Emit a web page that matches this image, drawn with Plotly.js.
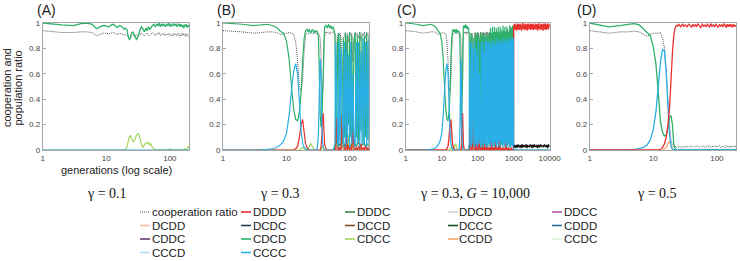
<!DOCTYPE html>
<html><head><meta charset="utf-8">
<script src="https://cdn.plot.ly/plotly-3.0.1.min.js"></script>
<style>html,body{margin:0;padding:0;background:#fff}#chart{width:740px;height:261px}</style>
</head><body><div id="chart"></div>
<script>
// ---------- generations ----------
const gen1 = [1,2,3,4,5,6,7,8,9,10,11,12,13,14,15,16,17,18,19,20,21,22,23,24,25,26,27,28,29,30,32,34,36,38,40,42,44,46,48,50,53,56,59,62,65,68,71,74,77,80,84,88,92,96,100,105,110,115,120,125,130,135,140,145,150,155,160,165,170,175,180,185,190,195,200];
const genB1 = [1,2,3,4,5,6,7,8,9,10,11,12,13,14,15,16,17,18,19,20,21,22,23,24,25,26,27,28,29,30,31,32,33,34,35,36,37,38,39,40,42,44,46,48,50,52,54];
const genBosc = [56,58,60,62,64,66,68,70,73,76,79,82,85,88,91,95,99,103,107,111,116,121,126,131,137,143,149,155,162,169,176,184,192,200];
const genC2 = [205,212,219,226,233,240,248,256,264,272,281,290,299,308,318,328,338,349,360,371,383,395,407,420,433,447,461,475,490,505,521,537,554,571,589,607,626,645,665,686,707,729,752,775,799,824,850,876,903,931,960,990];
const genC3 = [1000,1030,1060,1090,1120,1160,1200,1240,1280,1320,1360,1410,1460,1510,1560,1610,1670,1730,1790,1850,1910,1980,2050,2120,2190,2270,2350,2430,2510,2600,2690,2780,2880,2980,3080,3190,3300,3410,3530,3650,3780,3910,4050,4190,4330,4480,4640,4800,4970,5140,5320,5500,5690,5890,6100,6310,6530,6760,6990,7230,7480,7740,8010,8290,8580,8880,9190,9510,9840,10000];
const genEndA = [1, 200];
const genEndC = [1000, 10000];
const genDminor = [14,15,16,17,18,19,20,21,22];

// ---------- panel A (gamma = 0.1) ----------
const coopA = [0.94,0.925,0.925,0.93,0.93,0.925,0.9,0.91,0.92,0.92, 0.915,0.92,0.925,0.915,0.91,0.92,0.915,0.91,0.905,0.91, 0.9,0.895,0.89,0.9,0.91,0.905,0.9,0.895,0.9,0.905, 0.9,0.91,0.92,0.905,0.9,0.915,0.92,0.905,0.9,0.91, 0.925,0.915,0.9,0.92,0.91,0.925,0.9,0.915,0.905,0.92, 0.9,0.915,0.905,0.92,0.9, 0.915,0.895,0.92,0.905,0.915,0.9,0.92,0.91,0.895,0.915,0.9,0.92,0.905,0.91,0.895,0.915,0.9,0.91,0.895,0.905];
const cdcdA = [1.0,0.985,0.98,0.995,1.0,0.99,0.955,0.97,0.98,0.975, 0.97,0.985,0.99,0.975,0.965,0.98,0.975,0.965,0.95,0.96, 0.95,0.9,0.87,0.88,0.92,0.93,0.92,0.9,0.88,0.87, 0.9,0.95,0.97,0.95,0.93,0.96,0.94,0.97,0.95,0.96, 0.98,0.99,0.97,0.99,0.98,1.0,0.97,0.99,0.98,0.995, 0.97,0.99,0.98,1.0,0.97, 0.99,0.975,0.995,0.98,0.99,0.97,0.985,0.995,0.97,0.99,0.975,0.98,0.96,0.985,0.975,0.99,0.965,0.98,0.97,0.985];
const cdccA = [0,0,0,0,0,0,0,0,0,0, 0,0,0,0,0,0,0,0,0,0.005, 0.02,0.06,0.1,0.115,0.09,0.07,0.066,0.08,0.1,0.12, 0.13,0.09,0.04,0.02,0.04,0.06,0.05,0.06,0.04,0.05, 0.02,0.01,0.005,0,0,0.005,0,0,0.005,0, 0,0.005,0,0,0.01, 0,0.005,0,0,0.005,0,0,0.005,0,0,0.005,0,0,0.01,0.005,0,0.01,0.02,0.03,0.015];
const ccccA = [0, 0];

// ---------- panel B (gamma = 0.3), also first 200 generations of C ----------
const coopB1 = [0.94,0.93,0.92,0.925,0.93,0.93,0.925,0.91,0.915,0.92, 0.925,0.92,0.91,0.85,0.7,0.5,0.46,0.55,0.78,0.9, 0.92,0.915,0.92,0.925,0.92,0.915,0.92,0.925,0.92,0.915, 0.92,0.92,0.91,0.88,0.75,0.55,0.45,0.5,0.75,0.9, 0.93,0.92,0.93,0.91,0.93,0.92,0.93];
const cdcdB1 = [1.0,0.99,0.98,0.985,0.99,0.98,0.965,0.935,0.92,0.86, 0.72,0.5,0.32,0.24,0.23,0.3,0.45,0.7,0.88,0.94, 0.95,0.93,0.95,0.92,0.94,0.95,0.92,0.94,0.93,0.94, 0.92,0.88,0.6,0.28,0.18,0.22,0.4,0.6,0.85,0.97, 0.98,0.96,0.99,0.96,0.98,0.95,0.97];
const ccccB1 = [0,0,0,0.002,0.005,0.01,0.02,0.04,0.07,0.13, 0.27,0.47,0.62,0.68,0.6,0.38,0.15,0.05,0.02,0.01, 0.005,0,0,0,0,0,0,0,0,0.005, 0.03,0.15,0.45,0.72,0.6,0.25,0.06,0.02,0.01,0, 0,0,0,0,0,0,0];
const ddddB1 = [0,0,0,0,0,0,0,0,0,0, 0,0,0,0.01,0.03,0.1,0.2,0.24,0.14,0.05, 0.02,0.01,0,0,0,0,0,0,0,0, 0,0,0,0,0.02,0.1,0.25,0.29,0.15,0.04, 0.01,0,0,0,0,0,0];
const cdccB1 = [0,0,0,0,0,0,0,0,0,0, 0,0,0,0,0,0,0.01,0.02,0.01,0, 0,0.01,0.03,0.05,0.04,0.02,0.01,0,0,0, 0,0,0,0,0,0.02,0.03,0.01,0,0, 0,0,0,0,0,0,0];
const coopBosc = [0.93,0.92,0.9,0.55,0.88,0.92,0.9,0.92,0.88,0.5, 0.88,0.9,0.93,0.8,0.92,0.85,0.93,0.9,0.92,0.7, 0.88,0.93,0.9,0.92,0.88,0.93,0.86,0.92,0.9,0.93, 0.88,0.93,0.9,0.92];
const cdcdBosc = [0.95,0.9,0.1,0.05,0.85,0.92,0.08,0.9,0.15,0.05, 0.88,0.1,0.92,0.06,0.9,0.2,0.93,0.1,0.9,0.05, 0.85,0.92,0.1,0.9,0.07,0.93,0.15,0.9,0.05,0.9, 0.1,0.92,0.08,0.9];
const ccccBosc = [0.01,0.05,0.85,0.4,0.05,0.02,0.85,0.05,0.8,0.3, 0.03,0.85,0.02,0.8,0.05,0.75,0.02,0.85,0.05,0.6, 0.08,0.02,0.85,0.05,0.85,0.02,0.78,0.05,0.88,0.04, 0.85,0.02,0.86,0.05];
const ddddBosc = [0,0,0.02,0.25,0.05,0,0.02,0,0.03,0.28, 0.05,0.02,0,0.1,0,0.03,0,0.02,0,0.15, 0.02,0,0.02,0,0.03,0,0.05,0,0.02,0, 0.03,0,0.02,0];
const dddcBosc = [0,0.03,0.05,0.2,0.08,0.04,0.05,0.03,0.06,0.3, 0.07,0.03,0.05,0.1,0.04,0.02,0.04,0.03,0.05,0.25, 0.06,0.04,0.03,0.05,0.06,0.03,0.02,0.04,0.05,0.04, 0.03,0.05,0.04,0.03];
const cdccBosc = [0,0,0.02,0.05,0.1,0,0.01,0,0.03,0.08, 0.02,0,0.01,0.05,0,0.12,0,0.01,0,0.06, 0.02,0,0.01,0,0.02,0,0.04,0,0.01,0, 0.03,0,0.02,0];
const ccddBosc = [0,0,0,0.03,0.02,0,0,0,0.02,0.12, 0.01,0,0,0.04,0,0.05,0,0,0,0.1, 0.01,0,0,0,0.02,0,0.03,0,0,0, 0.02,0,0.01,0];
const ddccBosc = [0,0,0,0.02,0,0,0,0,0,0.05, 0,0,0,0.03,0,0,0,0,0,0.08, 0,0,0,0,0.02,0,0,0,0,0, 0.03,0,0,0];

// ---------- panel C (gamma = 0.3, G = 10,000), generations 200..10000 ----------
const coopC2 = [0.9,0.92,0.88,0.93,0.9,0.6,0.91,0.93,0.89,0.92, 0.9,0.94,0.88,0.7,0.91,0.93,0.9,0.92,0.89,0.94, 0.9,0.65,0.92,0.93,0.9,0.92,0.88,0.93,0.91,0.94, 0.9,0.92,0.89,0.93,0.9,0.75,0.91,0.94,0.9,0.93, 0.92,0.9,0.93,0.94,0.9,0.95,0.91,0.93,0.92,0.94, 0.91,0.9];
const cdcdC2 = [0.05,0.93,0.03,0.96,0.08,0.92,0.02,0.97,0.06,0.93, 0.03,0.97,0.07,0.93,0.04,0.96,0.02,0.93,0.06,0.97, 0.03,0.92,0.05,0.97,0.02,0.95,0.05,0.93,0.03,0.98, 0.06,0.94,0.04,0.97,0.02,0.93,0.07,0.97,0.03,0.95, 0.05,0.93,0.02,0.98,0.03,0.97,0.04,0.96,0.03,0.98, 0.05,0.04];
const ccccC2 = [0.84,0.04,0.85,0.02,0.8,0.06,0.86,0.03,0.83,0.05, 0.87,0.02,0.82,0.06,0.85,0.03,0.88,0.05,0.83,0.02, 0.86,0.07,0.85,0.03,0.87,0.04,0.83,0.06,0.88,0.02, 0.85,0.05,0.86,0.03,0.87,0.06,0.83,0.02,0.88,0.04, 0.85,0.05,0.87,0.03,0.89,0.02,0.86,0.05,0.88,0.03, 0.87,0.88];
const ddddC2 = [0,0.02,0,0.01,0,0.2,0,0.01,0,0.02, 0,0,0.03,0.15,0,0.01,0,0.02,0,0, 0.01,0.18,0,0,0.02,0,0.01,0,0,0.02, 0,0.01,0,0,0.02,0.12,0,0,0.01,0, 0.02,0,0,0,0.01,0,0.02,0,0,0, 0.01,0];
const ddddC3 = [0.965,0.99,0.945,0.995,0.955,0.985,0.94,0.975,0.995,0.95, 0.99,0.945,0.97,0.995,0.95,0.985,0.94,0.975,1.0,0.955, 0.985,0.945,0.995,0.965,0.95,0.99,0.94,0.975,0.995,0.95, 0.985,0.955,0.995,0.945,0.975,0.99,0.95,0.995,0.965,0.945, 0.985,0.955,0.995,0.95,0.975,0.99,0.94,0.985,0.995,0.955, 0.975,0.945,0.995,0.965,0.95,0.99,0.94,0.985,0.995,0.95, 0.975,0.995,0.945,0.985,0.955,0.995,0.95,0.975,0.99,0.965];
const coopC3 = [0.03,0.02,0.04,0.025,0.035,0.015,0.04,0.03,0.02,0.045, 0.025,0.035,0.02,0.04,0.03,0.015,0.035,0.045,0.02,0.03, 0.04,0.025,0.035,0.02,0.045,0.03,0.015,0.04,0.025,0.035, 0.02,0.04,0.03,0.045,0.025,0.015,0.035,0.04,0.02,0.03, 0.045,0.025,0.035,0.02,0.04,0.03,0.015,0.04,0.035,0.025, 0.02,0.045,0.03,0.04,0.025,0.035,0.02,0.04,0.03,0.045, 0.025,0.035,0.02,0.04,0.03,0.015,0.045,0.025,0.035,0.03];
const cdcdCEnd = [0, 0];
const ccccCEnd = [0, 0];

// ---------- panel D (gamma = 0.5) ----------
const coopD = [0.94,0.92,0.93,0.93,0.935,0.93,0.91,0.895,0.91,0.92, 0.92,0.92,0.925,0.88,0.8,0.62,0.38,0.2,0.08,0.04, 0.025,0.03,0.02,0.025,0.02,0.03,0.02,0.025,0.03,0.02, 0.025,0.03,0.02,0.035,0.025,0.03,0.02,0.03,0.025,0.035, 0.02,0.03,0.025,0.035,0.02,0.03,0.025,0.03,0.035,0.02, 0.03,0.025,0.035,0.02,0.03, 0.025,0.035,0.02,0.03,0.025,0.03,0.02,0.035,0.025,0.03,0.02,0.035,0.025,0.03,0.02,0.03,0.035,0.025,0.03,0.02];
const cdcdD = [1.0,0.97,0.98,0.99,0.995,0.985,0.955,0.925,0.9,0.81, 0.68,0.45,0.22,0.14,0.11,0.12,0.17,0.26,0.27,0.2, 0.05,0.01,0,0,0,0,0,0,0,0, 0,0,0,0,0,0,0,0,0,0, 0,0,0,0,0,0,0,0,0,0, 0,0,0,0,0, 0,0,0,0,0,0,0,0,0,0,0,0,0,0,0,0,0,0,0,0];
const ccccD = [0,0,0,0,0.005,0.01,0.02,0.04,0.08,0.16, 0.3,0.5,0.7,0.79,0.78,0.6,0.35,0.12,0.03,0.005, 0,0,0,0,0,0,0,0,0,0, 0,0,0,0,0,0,0,0,0,0, 0,0,0,0,0,0,0,0,0,0, 0,0,0,0,0, 0,0,0,0,0,0,0,0,0,0,0,0,0,0,0,0,0,0,0,0];
const ddddD = [0,0,0,0,0,0,0,0,0,0, 0,0,0.005,0.02,0.05,0.1,0.2,0.33,0.55,0.76, 0.9,0.96,0.98,0.975,0.99,0.98,0.97,0.985,0.99,0.975, 0.985,0.97,0.99,0.98,0.965,0.99,0.975,0.985,0.97,0.995, 0.98,0.965,0.99,0.975,0.985,0.97,0.99,0.98,0.965,0.995, 0.975,0.985,0.97,0.99,0.98, 0.965,0.99,0.975,0.985,0.97,0.995,0.98,0.965,0.99,0.975,0.985,0.97,0.99,0.98,0.965,0.99,0.975,0.985,0.97,0.98];
const ccddD = [0,0.01,0.02,0.05,0.066,0.04,0.01,0,0];

// ---------- legend / labels ----------
const legendNames = ['cooperation ratio','DDDD','DDDC','DDCD','DDCC','DCDD','DCDC','DCCD','DCCC','CDDD','CDDC','CDCD','CDCC','CCDD','CCDC','CCCD','CCCC'];
const legendColors = ['#555555','#e8312f','#3a8a45','#d2d2d2','#b455b4','#f8c0a0','#1f3b5c','#8b4a22','#1d4a2a','#2b6f98','#5f3a70','#2eb06a','#a2d45e','#f3a464','#d8f0d8','#b2def2','#2aaee6'];
const panelLabels = ['(A)','(B)','(C)','(D)'];
const gammaLabels = ['γ = 0.1','γ = 0.3','γ = 0.3, <i>G</i> = 10,000','γ = 0.5'];
const xTickVals = [1,10,100,1000,10000];
const xTickText = ['1','10','100','1000','10000'];
const yTickVals = [0,0.2,0.4,0.6,0.8,1];
const yTickText = ['0','0.2','0.4','0.6','0.8','1'];

const col = {}; legendNames.forEach((n,i)=>col[n]=legendColors[i]);
const COOP = 'cooperation ratio';
const COOPDASH = '1px,1px';

// ---------- layout geometry (pixels) ----------
const W = 740, H = 261;
const plotTop = 23, plotBot = 150;
const panelPx = [[42.7,189],[223,369],[405.7,549.7],[589.7,736]];
const panelMax = [200,200,10000,200];
const labelPx = [35,215,395,575];
const gammaPx = [107,280,475,657];
const px = v => v / W, py = v => 1 - v / H;

function tr(k, x, y, name, width, dash, color) {
  const s = k === 0 ? '' : String(k + 1);
  return {type:'scatter', mode:'lines', x:x, y:y, xaxis:'x'+s, yaxis:'y'+s,
    line:{color: color || col[name], width: width || 1.2, dash: dash || 'solid', simplify:false},
    showlegend:false, hoverinfo:'skip'};
}
const xB = genB1.concat(genBosc);
const xC = xB.concat(genC2);

const traces = [
  // A
  tr(0, gen1, coopA, COOP, 1, COOPDASH),
  tr(0, gen1, cdccA, 'CDCC'),
  tr(0, gen1, cdcdA, 'CDCD', 1.3),
  tr(0, genEndA, ccccA, 'CCCC'),
  // B
  tr(1, xB, coopB1.concat(coopBosc), COOP, 1, COOPDASH),
  tr(1, genBosc, ddccBosc, 'DDCC'),
  tr(1, genBosc, ccddBosc, 'CCDD'),
  tr(1, xB, cdccB1.concat(cdccBosc), 'CDCC'),
  tr(1, genBosc, dddcBosc, 'DDDC'),
  tr(1, xB, cdcdB1.concat(cdcdBosc), 'CDCD'),
  tr(1, xB, ddddB1.concat(ddddBosc), 'DDDD'),
  tr(1, xB, ccccB1.concat(ccccBosc), 'CCCC'),
  // C
  tr(2, xC, coopB1.concat(coopBosc, coopC2), COOP, 1, COOPDASH),
  tr(2, genBosc, ddccBosc, 'DDCC'),
  tr(2, genBosc, ccddBosc, 'CCDD'),
  tr(2, xB, cdccB1.concat(cdccBosc), 'CDCC'),
  tr(2, genBosc, dddcBosc, 'DDDC'),
  tr(2, xC.concat(genEndC), cdcdB1.concat(cdcdBosc, cdcdC2, cdcdCEnd), 'CDCD'),
  tr(2, xC.concat(genC3), ddddB1.concat(ddddBosc, ddddC2, ddddC3), 'DDDD', 1.4),
  tr(2, xC.concat(genEndC), ccccB1.concat(ccccBosc, ccccC2, ccccCEnd), 'CCCC'),
  tr(2, genC3, coopC3, COOP, 1.2, 'solid', '#111111'),
  // D
  tr(3, gen1, coopD, COOP, 1, COOPDASH),
  tr(3, genDminor, ccddD, 'CCDD'),
  tr(3, gen1, cdcdD, 'CDCD', 1.3),
  tr(3, gen1, ccccD, 'CCCC', 1.3),
  tr(3, gen1, ddddD, 'DDDD', 1.3)
];

const layout = {
  width: W, height: H, margin:{l:0,r:0,t:0,b:0},
  paper_bgcolor:'#ffffff', plot_bgcolor:'#ffffff',
  font:{family:'Liberation Sans, Arial, sans-serif', color:'#222222'},
  showlegend:false, annotations:[], shapes:[]
};
const tickFont = {family:'Liberation Sans, Arial, sans-serif', size:8, color:'#444444'};
panelPx.forEach((p,k) => {
  const s = k === 0 ? '' : String(k + 1);
  const nT = panelMax[k] === 10000 ? 5 : 3;
  layout['xaxis'+s] = {domain:[px(p[0]), px(p[1])], anchor:'y'+s, type:'log',
    range:[0, Math.log10(panelMax[k])], tickvals:xTickVals.slice(0,nT), ticktext:xTickText.slice(0,nT),
    tickfont:tickFont, showgrid:false, zeroline:false, showline:true, mirror:true,
    linecolor:'#a6a6a6', linewidth:1, ticks:'', fixedrange:true};
  layout['yaxis'+s] = {domain:[py(plotBot), py(plotTop)], anchor:'x'+s, range:[0,1],
    tickvals:yTickVals, ticktext:yTickText, tickfont:tickFont, showgrid:false, zeroline:false,
    showline:true, mirror:true, linecolor:'#a6a6a6', linewidth:1, ticks:'inside', ticklen:3,
    tickcolor:'#a6a6a6', fixedrange:true};
  layout.annotations.push({xref:'paper', yref:'paper', x:px(labelPx[k]), y:py(10), xanchor:'left', yanchor:'middle',
    text:panelLabels[k], showarrow:false, font:{size:14, color:'#222222'}});
  layout.annotations.push({xref:'paper', yref:'paper', x:px(gammaPx[k]), y:py(193), xanchor:'center', yanchor:'middle',
    text:gammaLabels[k], showarrow:false, font:{family:'Liberation Serif, Times New Roman, serif', size:14, color:'#111111'}});
});
layout.annotations.push({xref:'paper', yref:'paper', x:px(116), y:py(170), xanchor:'center', yanchor:'middle',
  text:'generations (log scale)', showarrow:false, font:{size:11, color:'#222222'}});
layout.annotations.push({xref:'paper', yref:'paper', x:px(7), y:py(88), xanchor:'center', yanchor:'middle',
  text:'cooperation and', textangle:-90, showarrow:false, font:{size:11, color:'#222222'}});
layout.annotations.push({xref:'paper', yref:'paper', x:px(17.5), y:py(88), xanchor:'center', yanchor:'middle',
  text:'population ratio', textangle:-90, showarrow:false, font:{size:11, color:'#222222'}});

// manual legend: 5 columns, row-major
const legCols = [140, 241, 345, 448, 552];
const legRows = [212, 225.5, 239, 252.5];
legendNames.forEach((n,i) => {
  const c = i % 5, r = Math.floor(i / 5);
  const x0 = legCols[c], y0 = legRows[r];
  layout.shapes.push({type:'line', xref:'paper', yref:'paper', x0:px(x0), x1:px(x0+10), y0:py(y0), y1:py(y0),
    line:{color:legendColors[i], width: i === 0 ? 1 : 1.6, dash: i === 0 ? COOPDASH : 'solid'}});
  layout.annotations.push({xref:'paper', yref:'paper', x:px(x0+9.5), y:py(y0), xanchor:'left', yanchor:'middle',
    text:n, showarrow:false, font:{size:11.5, color:'#222222'}});
});

Plotly.newPlot('chart', traces, layout, {staticPlot:true, displayModeBar:false});
</script>
</body></html>
